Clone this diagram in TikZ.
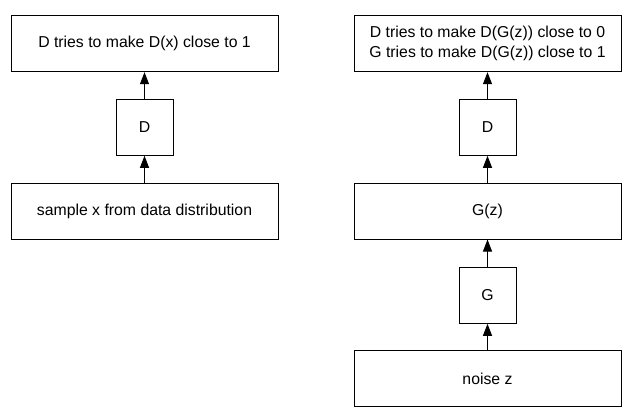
\documentclass[tikz,border=0pt]{standalone}
\usepackage{fontspec}
\setmainfont{Liberation Sans}
\usetikzlibrary{arrows.meta}

\tikzset{
    wide/.style={draw, minimum width=267pt, minimum height=56pt, inner sep=0pt, align=center},
    net/.style={draw, minimum width=57pt, minimum height=56pt, inner sep=0pt},
    flow/.style={-{Triangle[length=12pt,width=9pt]}}
}

\begin{document}
\begin{tikzpicture}[x=1pt,y=-1pt,line width=1pt,font=\fontsize{15.8}{20}\selectfont]
    \useasboundingbox (0,0) rectangle (631,417);

%   real data branch
    \node[wide] (dreal) at (144.5,43.7) {D tries to make D(x) close to 1};
    \node[net] (dleft) at (144.5,127.3) {D};
    \node[wide] (sample) at (144.5,211) {sample x from data distribution};

%   generated data branch
    \node[wide] (dfake) at (487.5,43.7) {D tries to make D(G(z)) close to 0\\G tries to make D(G(z)) close to 1};
    \node[net] (dright) at (487.5,127.3) {D};
    \node[wide] (gz) at (487.5,211) {G(z)};
    \node[net] (gen) at (487.5,295.3) {G};
    \node[wide] (noise) at (487.5,378.8) {noise z};

    \draw[flow] (sample.north) -- (dleft.south);
    \draw[flow] (dleft.north) -- (dreal.south);
    \draw[flow] (noise.north) -- (gen.south);
    \draw[flow] (gen.north) -- (gz.south);
    \draw[flow] (gz.north) -- (dright.south);
    \draw[flow] (dright.north) -- (dfake.south);
\end{tikzpicture}
\end{document}
